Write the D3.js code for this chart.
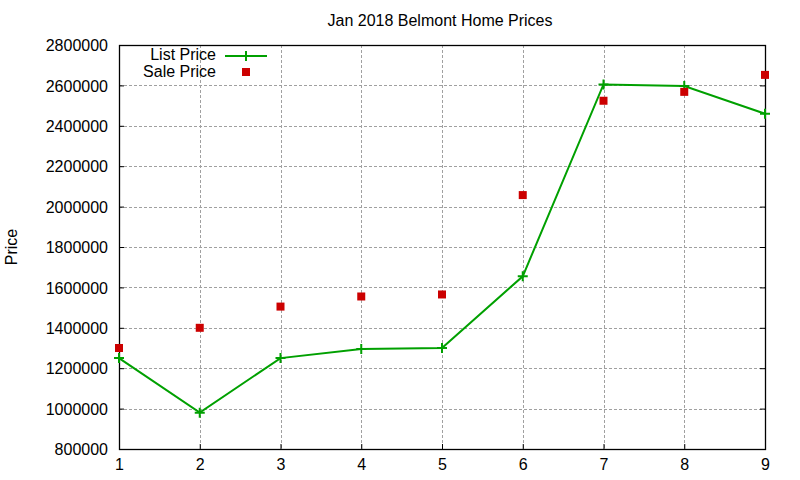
<!DOCTYPE html>
<html lang="en">
<head>
    <meta charset="UTF-8">
    <title>Jan 2018 Belmont Home Prices</title>
    <script src="https://d3js.org/d3.v7.min.js"></script>
    <style>
        body { margin: 0; background: #fff; }
        svg { font-family: "Liberation Sans", Arial, sans-serif; }
    </style>
</head>
<body>
    <svg width="800" height="480"></svg>
    <script>
        const weeks = [1, 2, 3, 4, 5, 6, 7, 8, 9];
        const listPrice = [1250000, 980000, 1250000, 1295000, 1300000, 1655000, 2605000, 2597000, 2460000];
        const salePrice = [1300000, 1400000, 1505000, 1555000, 1565000, 2057000, 2524000, 2568000, 2652000];
        const yTicks = [800000, 1000000, 1200000, 1400000, 1600000, 1800000, 2000000, 2200000, 2400000, 2600000, 2800000];

        const svg = d3.select('svg');
        const margin = {left: 119, right: 35, top: 45, bottom: 31};
        const width = 800, height = 480;
        const fontSize = '16px';

        const xScale = d3.scaleLinear()
            .domain([1, 9])
            .range([margin.left, width - margin.right]);
        const yScale = d3.scaleLinear()
            .domain([800000, 2800000])
            .range([height - margin.bottom, margin.top]);

        // grid
        const grid = svg.append('g')
            .attr('stroke', '#a0a0a0')
            .attr('stroke-width', 1)
            .attr('stroke-dasharray', '3,2');
        grid.selectAll('.gy').data(yTicks.slice(1, -1)).join('line')
            .attr('x1', margin.left).attr('x2', width - margin.right)
            .attr('y1', d => Math.round(yScale(d)) + 0.5).attr('y2', d => Math.round(yScale(d)) + 0.5);
        grid.selectAll('.gx').data(weeks.slice(1, -1)).join('line')
            .attr('y1', margin.top).attr('y2', height - margin.bottom)
            .attr('x1', d => Math.round(xScale(d)) + 0.5).attr('x2', d => Math.round(xScale(d)) + 0.5);

        // axes (ticks pointing inward, like gnuplot)
        const fmt = d3.format('d');
        const axisStyle = g => {
            g.selectAll('text').attr('fill', '#000').style('font-size', fontSize);
            g.selectAll('line').attr('stroke', '#000');
            g.select('.domain').remove();
        };
        svg.append('g')
            .attr('transform', `translate(${margin.left},0)`)
            .call(d3.axisLeft(yScale).tickValues(yTicks).tickFormat(fmt).tickSizeInner(-5).tickSizeOuter(0).tickPadding(11))
            .call(axisStyle)
            .call(g => g.selectAll('text').attr('dy', '0.36em'));
        svg.append('g')
            .attr('transform', `translate(${width - margin.right},0)`)
            .call(d3.axisRight(yScale).tickValues(yTicks).tickFormat('').tickSizeInner(-5).tickSizeOuter(0))
            .call(axisStyle);
        svg.append('g')
            .attr('transform', `translate(0,${height - margin.bottom})`)
            .call(d3.axisBottom(xScale).tickValues(weeks).tickFormat(fmt).tickSizeInner(-5).tickSizeOuter(0).tickPadding(10))
            .call(axisStyle);

        // frame
        svg.append('rect')
            .attr('x', margin.left + 0.5).attr('y', margin.top + 0.5)
            .attr('width', width - margin.left - margin.right)
            .attr('height', height - margin.top - margin.bottom)
            .attr('fill', 'none').attr('stroke', '#000').attr('stroke-width', 1.3);

        // title + y label
        svg.append('text')
            .attr('x', 440).attr('y', 26)
            .attr('text-anchor', 'middle')
            .style('font-size', fontSize)
            .text('Jan 2018 Belmont Home Prices');
        svg.append('text')
            .attr('transform', `translate(17,${(margin.top + height - margin.bottom) / 2}) rotate(-90)`)
            .attr('text-anchor', 'middle')
            .style('font-size', fontSize)
            .text('Price');

        const green = '#00a000', red = '#cc0000';
        const plus = (sel, size) => sel
            .attr('d', `M${-size},0H${size}M0,${-size}V${size}`)
            .attr('stroke', green).attr('stroke-width', 2).attr('fill', 'none');

        // list price line
        const line = d3.line()
            .x((d, i) => xScale(weeks[i]))
            .y(d => yScale(d));
        svg.append('path')
            .attr('d', line(listPrice))
            .attr('fill', 'none')
            .attr('stroke', green)
            .attr('stroke-width', 2);
        svg.selectAll('.lp').data(listPrice).join('path')
            .attr('transform', (d, i) => `translate(${xScale(weeks[i])},${yScale(d)})`)
            .call(plus, 5);

        // sale price points
        svg.selectAll('.sp').data(salePrice).join('rect')
            .attr('x', (d, i) => xScale(weeks[i]) - 4)
            .attr('y', d => yScale(d) - 4)
            .attr('width', 8).attr('height', 8)
            .attr('fill', red);

        // legend
        const legend = svg.append('g').style('font-size', fontSize);
        legend.append('text').attr('x', 216).attr('y', 60).attr('text-anchor', 'end').text('List Price');
        legend.append('text').attr('x', 216).attr('y', 77).attr('text-anchor', 'end').text('Sale Price');
        legend.append('line')
            .attr('x1', 225).attr('x2', 267).attr('y1', 56).attr('y2', 56)
            .attr('stroke', green).attr('stroke-width', 2);
        legend.append('path').attr('transform', 'translate(246,56)').call(plus, 5);
        legend.append('rect').attr('x', 242).attr('y', 68).attr('width', 8).attr('height', 8).attr('fill', red);
    </script>
</body>
</html>
